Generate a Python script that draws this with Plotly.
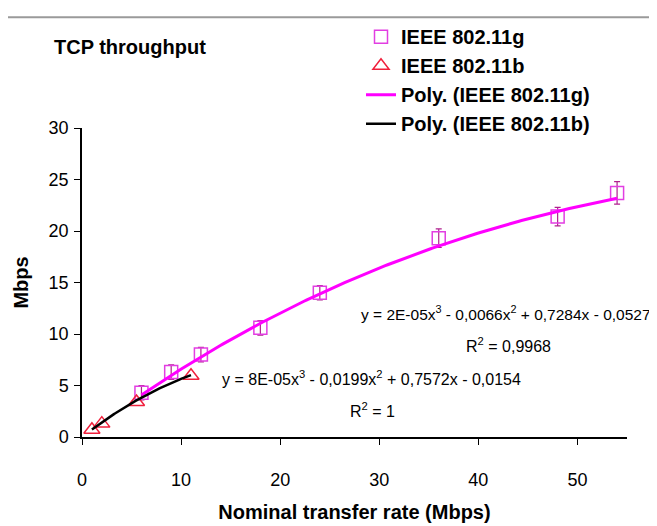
import numpy as np
import plotly.graph_objects as go

# ---------------- data ----------------
g_rate = [6, 9, 12, 18, 24, 36, 48, 54]
g_tput = [4.3, 6.3, 8.0, 10.6, 14.0, 19.3, 21.4, 23.7]
g_err = [0.7, 0.7, 0.7, 0.7, 0.7, 0.9, 0.9, 1.1]

b_rate = [1, 2, 5.5, 11]
b_tput = [0.7, 1.3, 3.4, 5.95]

# polynomial trendline coefficients as printed on the chart (x^3, x^2, x, 1)
g_coef = [2e-05, -0.0066, 0.7284, -0.0527]
b_coef = [8e-05, -0.0199, 0.7572, -0.0154]

g_eq = "y = 2E-05x<sup>3</sup> - 0,0066x<sup>2</sup> + 0,7284x - 0,0527"
g_r2 = "R<sup>2</sup> = 0,9968"
b_eq = "y = 8E-05x<sup>3</sup> - 0,0199x<sup>2</sup> + 0,7572x - 0,0154"
b_r2 = "R<sup>2</sup> = 1"

x_ticks = [0, 10, 20, 30, 40, 50]
y_ticks = [0, 5, 10, 15, 20, 25, 30]

# ---------------- style ----------------
FONT = "Liberation Sans, Arial, sans-serif"
MAG = "#ff00ff"
SQ = "#e23ee2"
TRI = "#f0203c"

# the page body has an 8px margin, so the figure is drawn 8px in from the window edge
OFF = 8
W, H = 657 - OFF, 526 - OFF
L, R, T, B = 82 - OFF, 30, 128 - OFF, 88.5
PW, PH = W - L - R, H - T - B


def px_x(p):  # window pixel -> paper x
    return (p - OFF - L) / PW


def px_y(p):  # window pixel -> paper y
    return (H - B - (p - OFF)) / PH


gx = np.linspace(min(g_rate), max(g_rate), 200)
gy = np.polyval(g_coef, gx)
bx = np.linspace(min(b_rate), max(b_rate), 100)
by = np.polyval(b_coef, bx)

fig = go.Figure()
fig.add_trace(go.Scatter(
    x=g_rate, y=g_tput, mode="markers", name="IEEE 802.11g",
    marker=dict(symbol="square-open", size=13, color=SQ, line=dict(width=1.5, color=SQ)),
    error_y=dict(type="data", array=g_err, color="#b0208f", thickness=1.2, width=3),
))
fig.add_trace(go.Scatter(
    x=b_rate, y=b_tput, mode="markers", name="IEEE 802.11b",
    marker=dict(symbol="triangle-up-open", size=14, color=TRI, line=dict(width=1.5, color=TRI)),
))
fig.add_trace(go.Scatter(
    x=gx, y=gy, mode="lines", name="Poly. (IEEE 802.11g)",
    line=dict(color=MAG, width=3),
))
fig.add_trace(go.Scatter(
    x=bx, y=by, mode="lines", name="Poly. (IEEE 802.11b)",
    line=dict(color="black", width=2.5),
))

ann = [
    dict(x=42.8, y=12.06, text=g_eq, size=15.5),
    dict(x=43.0, y=8.96, text=g_r2, size=16),
    dict(x=29.2, y=5.77, text=b_eq, size=16),
    dict(x=29.3, y=2.66, text=b_r2, size=16),
]
annotations = [dict(xref="x", yref="y", showarrow=False, xanchor="center", yanchor="middle",
                    font=dict(family=FONT, size=a["size"], color="black"),
                    x=a["x"], y=a["y"], text=a["text"]) for a in ann]
annotations.append(dict(xref="paper", yref="paper", x=px_x(52), y=px_y(47),
                        xanchor="left", yanchor="middle", showarrow=False,
                        text="<b>TCP throughput</b>", font=dict(family=FONT, size=20, color="black")))

fig.update_layout(
    width=W, height=H,
    margin=dict(l=L, r=R, t=T, b=B, pad=0, autoexpand=False),
    paper_bgcolor="white", plot_bgcolor="white",
    font=dict(family=FONT, color="black", size=16),
    showlegend=True,
    legend=dict(x=px_x(361), y=px_y(17), xanchor="left", yanchor="top",
                font=dict(family=FONT, size=20, color="black", weight="bold"),
                bgcolor="rgba(0,0,0,0)", itemwidth=30, tracegroupgap=0),
    annotations=annotations,
    shapes=[dict(type="line", xref="paper", yref="paper",
                 x0=px_x(8), x1=px_x(657), y0=px_y(17), y1=px_y(17),
                 line=dict(color="#9a9a9a", width=2))],
    xaxis=dict(range=[0, 55], tickvals=x_ticks, ticks="outside", ticklen=6, tickwidth=1.2,
               tickcolor="black", showline=True, linecolor="black", linewidth=1.5,
               showgrid=False, zeroline=False, tickfont=dict(family=FONT, size=18),
               ticklabelstandoff=20, automargin=False,
               title=dict(text="<b>Nominal transfer rate (Mbps)</b>", font=dict(family=FONT, size=20),
                          standoff=16)),
    yaxis=dict(range=[0, 30], tickvals=y_ticks, ticks="outside", ticklen=6, tickwidth=1.2,
               tickcolor="black", showline=True, linecolor="black", linewidth=1.5,
               showgrid=False, zeroline=False, tickfont=dict(family=FONT, size=18),
               ticklabelstandoff=2, automargin=False,
               title=dict(text="<b>Mbps</b>", font=dict(family=FONT, size=20), standoff=15)),
)

fig.write_html("out.html")
